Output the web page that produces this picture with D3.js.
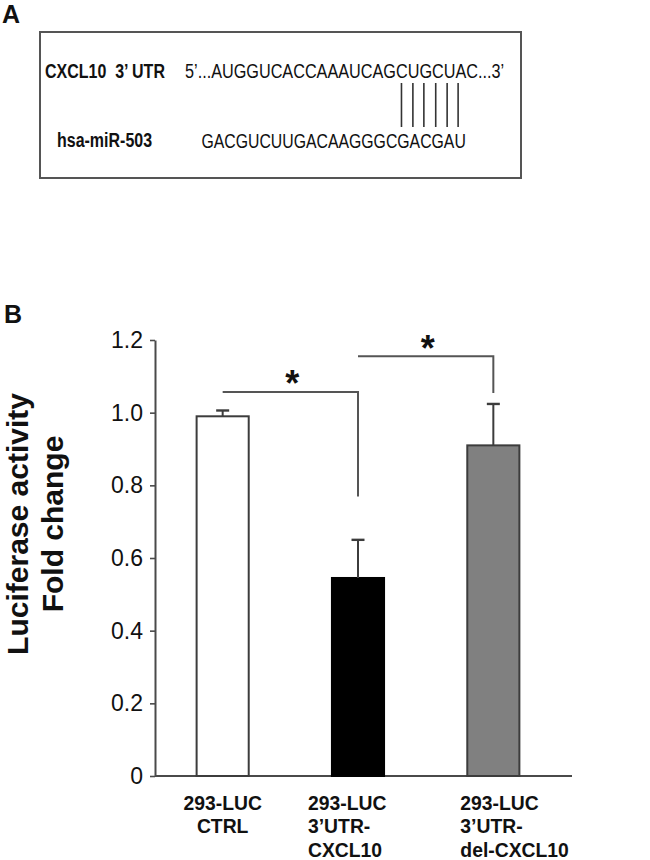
<!DOCTYPE html>
<html><head><meta charset="utf-8">
<script src="https://cdn.jsdelivr.net/npm/d3@7"></script>
<style>body{margin:0;background:#fff} svg{display:block}</style>
</head><body><svg id="chart" width="650" height="860"></svg>
<script>
// ---------- data ----------
const categories = ["293-LUC CTRL", "293-LUC 3’UTR-CXCL10", "293-LUC 3’UTR-del-CXCL10"];
const labelLines = [["293-LUC", "CTRL"], ["293-LUC", "3’UTR-", "CXCL10"], ["293-LUC", "3’UTR-", "del-CXCL10"]];
const foldChange = [0.99, 0.545, 0.91];
const errorUp = [0.016, 0.105, 0.114];
const barFills = ["#ffffff", "#000000", "#808080"];
const yTickValues = [0, 0.2, 0.4, 0.6, 0.8, 1.0, 1.2];
const yTickLabels = ["0", "0.2", "0.4", "0.6", "0.8", "1.0", "1.2"];
const sigPairs = [[0, 1], [1, 2]];
const sigLevel = [1.057, 1.155];
const sigDropTo = [0.769, 1.054];
const sigMark = ["*", "*"];
const yTitleLines = ["Luciferase activity", "Fold change"];
const utrName = "CXCL10  3’ UTR";
const utrSeq = "5’...AUGGUCACCAAAUCAGCUGCUAC...3’";
const mirName = "hsa-miR-503";
const mirSeq = "GACGUCUUGACAAGGGCGACGAU";
const pairedCount = 6;

// ---------- setup ----------
const svg = d3.select("#chart");
const SANS = "'Liberation Sans', Arial, sans-serif";
const probe = svg.append("text").attr("font-size", 100).text("ABCDEFGHabcdefgh");
probe.attr("font-family", "'Liberation Sans Narrow'");
const wN = probe.node().getComputedTextLength();
probe.attr("font-family", "'Liberation Sans'");
const wR = probe.node().getComputedTextLength();
probe.remove();
const hasNarrow = wN < wR * 0.9;
const NARROW = hasNarrow ? "'Liberation Sans Narrow', 'Arial Narrow', sans-serif" : SANS;
const sx = hasNarrow ? 1 : 0.82;

function narrowText(g, str, x, y, size, weight, anchor, stretch) {
  const k = sx * (stretch || 1);
  return g.append("text")
    .attr("transform", `translate(${x},${y}) scale(${k},1)`)
    .attr("font-family", NARROW)
    .attr("font-size", size)
    .attr("font-weight", weight)
    .attr("text-anchor", anchor || "start")
    .attr("fill", "#111")
    .style("white-space", "pre")
    .text(str);
}

// ---------- Panel A ----------
const gA = svg.append("g");
gA.append("text").attr("x", 2).attr("y", 23).attr("font-family", SANS)
  .attr("font-size", 25).attr("font-weight", "bold").attr("fill", "#111").text("A");
gA.append("rect").attr("x", 40).attr("y", 32).attr("width", 481).attr("height", 146)
  .attr("fill", "none").attr("stroke", "#555").attr("stroke-width", 2);
narrowText(gA, utrName, 45, 78, 19.5, "bold");
narrowText(gA, utrSeq, 185, 77.5, 19.8, "normal");
narrowText(gA, mirName, 57, 147, 19.5, "bold");
const mirText = narrowText(gA, mirSeq, 201.5, 148, 19.3, "normal");
// pairing lines over the last bases of the miRNA
const mirNode = mirText.node();
const pairedIdx = d3.range(mirSeq.length - pairedCount, mirSeq.length);
const mirX = i => {
  const s = mirNode.getStartPositionOfChar(i).x, e = mirNode.getEndPositionOfChar(i).x;
  return 201.5 + ((s + e) / 2) * sx;
};
gA.selectAll("line.pair").data(pairedIdx).join("line").attr("class", "pair")
  .attr("x1", d => mirX(d) - 2).attr("x2", d => mirX(d) - 2)
  .attr("y1", 83).attr("y2", 127)
  .attr("stroke", "#333").attr("stroke-width", 1.6);

// ---------- Panel B ----------
const gB = svg.append("g");
gB.append("text").attr("x", 4).attr("y", 323).attr("font-family", SANS)
  .attr("font-size", 25).attr("font-weight", "bold").attr("fill", "#111").text("B");

const x = d3.scaleBand().domain(categories).range([155, 561]).paddingInner(0.615).paddingOuter(0.3075);
const y = d3.scaleLinear().domain([0, 1.2]).range([776, 340]);
const cx = i => x(categories[i]) + x.bandwidth() / 2;

const AX = "#4a4a4a";
const yAxis = d3.axisLeft(y).tickValues(yTickValues)
  .tickFormat((d, i) => yTickLabels[i]).tickSize(5).tickSizeOuter(0).tickPadding(7);
const gy = gB.append("g").attr("transform", "translate(155,0)").call(yAxis);
gy.select(".domain").attr("stroke", AX).attr("stroke-width", 2);
gy.selectAll(".tick line").attr("stroke", AX).attr("stroke-width", 1.6);
gy.selectAll(".tick text").attr("font-family", SANS).attr("font-size", 23).attr("fill", "#111");

// x axis baseline
gB.append("line").attr("x1", x.range()[0]).attr("x2", x.range()[1] + 11)
  .attr("y1", y(0)).attr("y2", y(0)).attr("stroke", AX).attr("stroke-width", 2);

// bars
gB.selectAll("rect.bar").data(categories).join("rect").attr("class", "bar")
  .attr("x", d => x(d)).attr("width", x.bandwidth())
  .attr("y", (d, i) => y(foldChange[i])).attr("height", (d, i) => y(0) - y(foldChange[i]))
  .attr("fill", (d, i) => barFills[i])
  .attr("stroke", (d, i) => i === 1 ? "#000" : "#3c3c3c").attr("stroke-width", 2);

// error bars (upper)
const eb = gB.selectAll("g.err").data(categories).join("g").attr("class", "err");
eb.append("line").attr("x1", (d, i) => cx(i)).attr("x2", (d, i) => cx(i))
  .attr("y1", (d, i) => y(foldChange[i])).attr("y2", (d, i) => y(foldChange[i] + errorUp[i]))
  .attr("stroke", "#3c3c3c").attr("stroke-width", 2);
eb.append("line").attr("x1", (d, i) => cx(i) - 6.5).attr("x2", (d, i) => cx(i) + 6.5)
  .attr("y1", (d, i) => y(foldChange[i] + errorUp[i])).attr("y2", (d, i) => y(foldChange[i] + errorUp[i]))
  .attr("stroke", "#3c3c3c").attr("stroke-width", 2.4);

// significance brackets
const starSize = 36;
sigPairs.forEach((p, k) => {
  const x1 = cx(p[0]), x2 = cx(p[1]);
  gB.append("path")
    .attr("d", `M${x1},${y(sigLevel[k])}H${x2}V${y(sigDropTo[k])}`)
    .attr("fill", "none").attr("stroke", "#555").attr("stroke-width", 2);
  // asterisk ink centre sits ~0.575em above the baseline
  gB.append("text").attr("font-family", SANS).attr("font-size", starSize)
    .attr("font-weight", "bold").attr("fill", "#111").attr("text-anchor", "middle")
    .attr("x", (x1 + x2) / 2 + 2)
    .attr("y", y(sigLevel[k]) - 16.5 + 0.575 * starSize)
    .text(sigMark[k]);
});

// x labels
const labelAnchor = ["middle", "start", "start"];
const labelDx = [0, -50, -33];
const lineY = [809.5, 833, 856.5];
labelLines.forEach((lines, i) => {
  lines.forEach((s, j) => {
    narrowText(gB, s, cx(i) + labelDx[i], lineY[j], 20, "bold", labelAnchor[i], 1.18);
  });
});

// y title
const titleX = [28, 63];
yTitleLines.forEach((s, j) => {
  gB.append("text").attr("transform", `translate(${titleX[j]},524) rotate(-90)`)
    .attr("text-anchor", "middle").attr("font-family", SANS).attr("font-size", 30)
    .attr("font-weight", "bold").attr("fill", "#111").text(s);
});
</script>
</body></html>
